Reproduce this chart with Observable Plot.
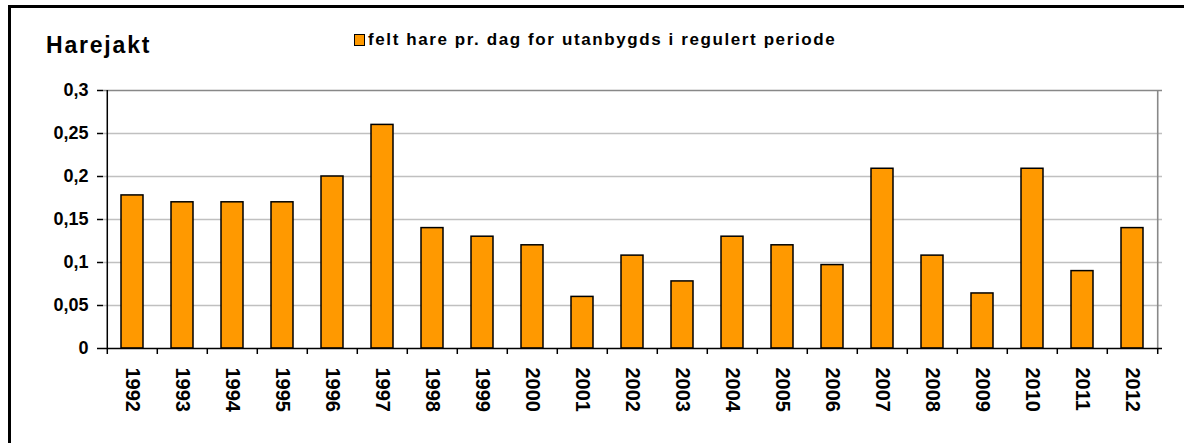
<!DOCTYPE html>
<html>
<head>
<meta charset="utf-8">
<script src="https://cdn.jsdelivr.net/npm/d3@7"></script>
<script src="https://cdn.jsdelivr.net/npm/@observablehq/plot@0.6"></script>
<style>
  html, body { margin: 0; padding: 0; background: #fff; }
  #wrap { position: relative; width: 1184px; height: 443px; overflow: hidden; font-family: "Liberation Sans", Arial, sans-serif; }
  #border { position: absolute; left: 8px; top: 5px; width: 1300px; height: 600px; border-left: 3px solid #000; border-top: 3px solid #000; }
  #title { position: absolute; left: 46px; top: 32px; font-size: 23px; font-weight: bold; letter-spacing: 1.8px; color: #000; }
  #legend { position: absolute; left: 354px; top: 30px; font-size: 17px; font-weight: bold; letter-spacing: 1.6px; color: #000; display: flex; align-items: center; }
  #legend .sw { width: 9px; height: 10px; background: #FF9900; border: 1.5px solid #000; margin-right: 3px; }
  #chart { position: absolute; left: 0; top: 0; }
  #chart svg text { font-family: "Liberation Sans", Arial, sans-serif; }
</style>
</head>
<body>
<div id="wrap">
  <div id="border"></div>
  <div id="chart"></div>
  <div id="title"></div>
  <div id="legend"><span class="sw"></span><span id="legtext"></span></div>
</div>
<script>
const titleText = "Harejakt";
const seriesName = "felt hare pr. dag for utanbygds i regulert periode";
const years = ["1992","1993","1994","1995","1996","1997","1998","1999","2000","2001","2002","2003","2004","2005","2006","2007","2008","2009","2010","2011","2012"];
const values = [0.178,0.17,0.17,0.17,0.2,0.26,0.14,0.13,0.12,0.06,0.108,0.078,0.13,0.12,0.097,0.209,0.108,0.064,0.209,0.09,0.14];
const yTicks = [0,0.05,0.1,0.15,0.2,0.25,0.3];
const yGrid = [0.05,0.1,0.15,0.2,0.25];

document.getElementById("title").textContent = titleText;
document.getElementById("legtext").textContent = seriesName;

const data = years.map((y, i) => ({year: y, value: values[i]}));

const W = 1184, H = 443, mL = 103, mR = 22, mT = 90, mB = 95;
const step = (W - mL - mR) / years.length;
const fmt = d => String(d).replace(".", ",");

const chart = Plot.plot({
  width: W,
  height: H,
  marginLeft: mL,
  marginRight: mR,
  marginTop: mT,
  marginBottom: mB,
  style: {background: "transparent", overflow: "visible"},
  x: {domain: years, padding: 0.56, paddingOuter: 0.28, axis: null, label: null},
  y: {domain: [0, 0.3], axis: null, label: null},
  marks: [
    Plot.ruleY(yGrid, {stroke: "#c0c0c0", strokeWidth: 1.6}),
    Plot.ruleY([0.3], {stroke: "#888", strokeWidth: 1.6}),
    Plot.ruleX([years[years.length - 1]], {dx: step / 2, stroke: "#888", strokeWidth: 1.6}),
    Plot.barY(data, {x: "year", y: "value", fill: "#FF9900", stroke: "#000", strokeWidth: 1.5}),
    Plot.ruleY([0], {stroke: "#000", strokeWidth: 1.5}),
    Plot.ruleX([years[0]], {dx: -step / 2, stroke: "#000", strokeWidth: 1.5}),
    Plot.axisY(yTicks, {anchor: "left", label: null, tickSize: 6, tickPadding: 9, tickFormat: fmt, stroke: "#000", strokeWidth: 1.5, fill: "#000", fontSize: 18, fontWeight: "bold", letterSpacing: 1}),
    Plot.axisX(years, {anchor: "bottom", label: null, tickSize: 6, tickFormat: () => "", dx: -step / 2, stroke: "#000", strokeWidth: 1.5}),
    Plot.axisX([years[years.length - 1]], {anchor: "bottom", label: null, tickSize: 6, tickFormat: () => "", dx: step / 2, stroke: "#000", strokeWidth: 1.5}),
    Plot.axisX(years, {anchor: "bottom", label: null, tickSize: 0, tickPadding: 19, tickRotate: 90, fill: "#000", fontSize: 20, fontWeight: "bold"})
  ]
});
document.getElementById("chart").appendChild(chart);
</script>
</body>
</html>
